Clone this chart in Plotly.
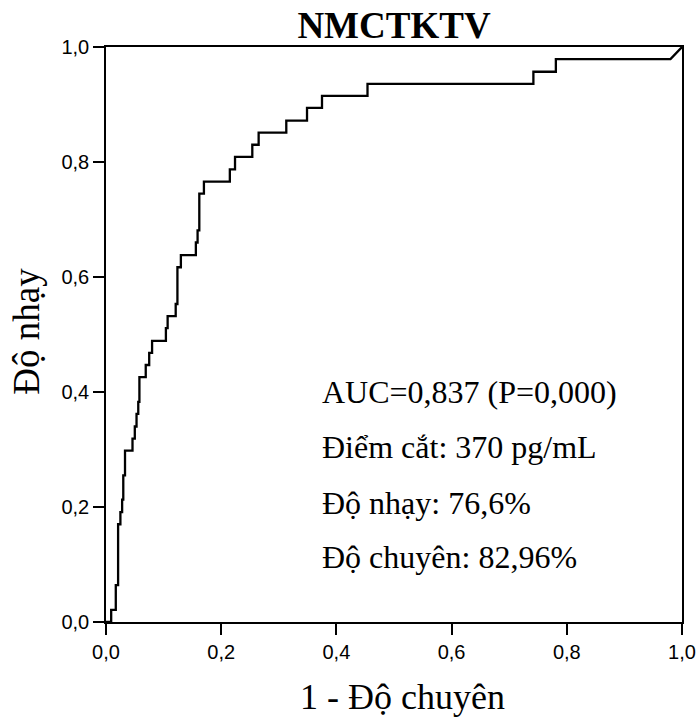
import plotly.graph_objects as go

# ROC curve vertices (1 - specificity, sensitivity)
fpr = [0.000, 0.009, 0.009, 0.017, 0.017, 0.021, 0.021, 0.025, 0.025, 0.028,
       0.028, 0.030, 0.030, 0.033, 0.033, 0.046, 0.046, 0.050, 0.050, 0.053,
       0.053, 0.056, 0.056, 0.058, 0.058, 0.069, 0.069, 0.075, 0.075, 0.080,
       0.080, 0.104, 0.104, 0.107, 0.107, 0.121, 0.121, 0.124, 0.124, 0.130,
       0.130, 0.156, 0.156, 0.159, 0.159, 0.162, 0.162, 0.170, 0.170, 0.215,
       0.215, 0.224, 0.224, 0.254, 0.254, 0.265, 0.265, 0.313, 0.313, 0.349,
       0.349, 0.375, 0.375, 0.454, 0.454, 0.742, 0.742, 0.781, 0.781, 0.980,
       1.000]
tpr = [0.000, 0.000, 0.021, 0.021, 0.064, 0.064, 0.170, 0.170, 0.191, 0.191,
       0.213, 0.213, 0.255, 0.255, 0.298, 0.298, 0.319, 0.319, 0.340, 0.340,
       0.362, 0.362, 0.383, 0.383, 0.426, 0.426, 0.447, 0.447, 0.468, 0.468,
       0.489, 0.489, 0.511, 0.511, 0.532, 0.532, 0.553, 0.553, 0.617, 0.617,
       0.638, 0.638, 0.660, 0.660, 0.681, 0.681, 0.745, 0.745, 0.766, 0.766,
       0.787, 0.787, 0.809, 0.809, 0.830, 0.830, 0.851, 0.851, 0.872, 0.872,
       0.894, 0.894, 0.915, 0.915, 0.936, 0.936, 0.957, 0.957, 0.979, 0.979,
       1.000]

tick_vals = [0.0, 0.2, 0.4, 0.6, 0.8, 1.0]
tick_text = ["0,0", "0,2", "0,4", "0,6", "0,8", "1,0"]

stats_text = ["AUC=0,837 (P=0,000)", "Điểm cắt: 370 pg/mL",
              "Độ nhạy: 76,6%", "Độ chuyên: 82,96%"]
stats_y = [0.400, 0.304, 0.207, 0.113]

SERIF = "Liberation Serif, Times New Roman, DejaVu Serif, serif"
SANS = "Liberation Sans, Arial, sans-serif"

fig = go.Figure()
fig.add_trace(go.Scatter(x=fpr, y=tpr, mode="lines",
                         line=dict(color="black", width=2.3),
                         hoverinfo="skip", showlegend=False))

for t, yy in zip(stats_text, stats_y):
    fig.add_annotation(x=0.372, y=yy, xref="x", yref="y", text=t,
                       showarrow=False, xanchor="left", yanchor="middle",
                       font=dict(family=SERIF, size=32, color="black"))

# axis titles
fig.add_annotation(x=0.515, y=-0.131, xref="paper", yref="paper",
                   text="1 - Độ chuyên", showarrow=False,
                   xanchor="center", yanchor="middle",
                   font=dict(family=SERIF, size=36, color="black"))
fig.add_annotation(x=-0.137, y=0.505, xref="paper", yref="paper",
                   text="Độ nhạy", showarrow=False, textangle=-90,
                   xanchor="center", yanchor="middle",
                   font=dict(family=SERIF, size=37, color="black"))

axis_common = dict(range=[0, 1], tickvals=tick_vals, ticktext=tick_text,
                   showline=True, linecolor="black", linewidth=1.5,
                   mirror=True, ticks="outside", ticklen=11, tickwidth=1.5,
                   tickcolor="black", showgrid=False, zeroline=False,
                   automargin=False,
                   tickfont=dict(family=SANS, size=20, color="black"))

fig.update_layout(
    width=697, height=720, autosize=False,
    margin=dict(l=106, r=15, t=47, b=98),
    paper_bgcolor="white", plot_bgcolor="white",
    title=dict(text="<b>NMCTKTV</b>", x=0.5, xref="paper",
               y=0.965, yref="container", yanchor="middle",
               font=dict(family=SERIF, size=37, color="black")),
    xaxis=dict(**axis_common),
    yaxis=dict(**axis_common),
)

fig.write_html("out.html")
